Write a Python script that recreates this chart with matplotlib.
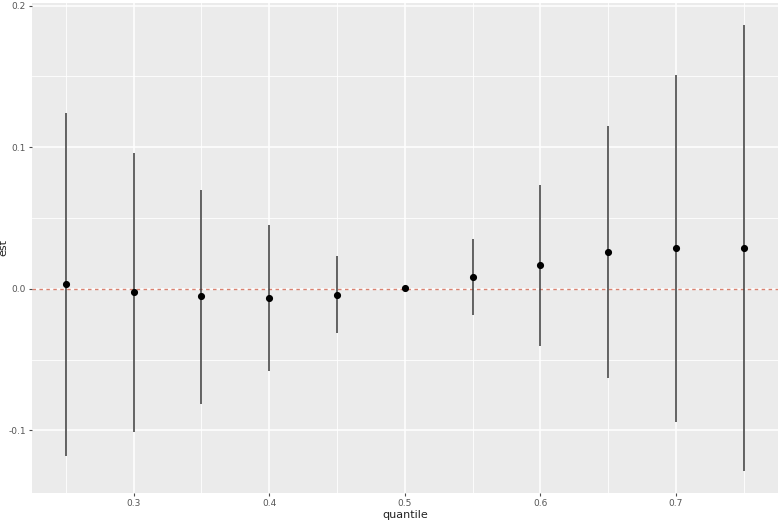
import matplotlib
matplotlib.use("Agg")
import matplotlib.pyplot as plt
import numpy as np

# 分位数回归估计与置信区间
quantile = [0.25, 0.30, 0.35, 0.40, 0.45, 0.50, 0.55, 0.60, 0.65, 0.70, 0.75]
est = [0.0033, -0.0023, -0.0054, -0.0064, -0.0040, 0.0004, 0.0087, 0.0167, 0.0261, 0.0289, 0.0289]
lower = [-0.1183, -0.1011, -0.0814, -0.0579, -0.0310, 0.0004, -0.0183, -0.0407, -0.0628, -0.0941, -0.1284]
upper = [0.1244, 0.0960, 0.0700, 0.0454, 0.0231, 0.0004, 0.0355, 0.0734, 0.1150, 0.1508, 0.1860]

x_ticks = [0.3, 0.4, 0.5, 0.6, 0.7]
y_ticks = [-0.1, 0.0, 0.1, 0.2]

fig = plt.figure(figsize=(7.8, 5.21), dpi=100)
ax = fig.add_axes([0.041, 0.054, 0.956, 0.940])
ax.set_facecolor('#ebebeb')

# 网格：主网格 + 次网格
for t in np.arange(0.25, 0.76, 0.1):
    ax.axvline(t, color='white', linewidth=0.6, zorder=0)
for t in [-0.05, 0.05, 0.15]:
    ax.axhline(t, color='white', linewidth=0.6, zorder=0)
for t in x_ticks:
    ax.axvline(t, color='white', linewidth=1.1, zorder=0)
for t in y_ticks:
    ax.axhline(t, color='white', linewidth=1.1, zorder=0)

ax.axhline(0, color='#d9806f', linestyle=(0, (2.5, 2.5)), linewidth=1.0, zorder=1)
ax.vlines(quantile, lower, upper, color='#3a3a3a', linewidth=1.1, zorder=2)
ax.scatter(quantile, est, s=17, color='black', zorder=3)

ax.set_xlim(0.225, 0.775)
ax.set_ylim(-0.1441, 0.2018)
ax.set_xticks(x_ticks)
ax.set_xticklabels([f'{t:.1f}' for t in x_ticks])
ax.set_yticks(y_ticks)
ax.set_yticklabels(['-0.1', '0.0', '0.1', '0.2'])
ax.tick_params(colors='#4d4d4d', labelsize=6.5, length=2.5, width=0.8, pad=2)
ax.tick_params(axis='both', labelcolor='#555555')
for s in ax.spines.values():
    s.set_visible(False)

ax.set_xlabel('quantile', fontsize=8, color='#222222', labelpad=1)
ax.set_ylabel('est', fontsize=8, color='#222222')
ax.yaxis.set_label_coords(-0.031, 0.5)

fig.savefig('out.png', dpi=100, facecolor='white')
